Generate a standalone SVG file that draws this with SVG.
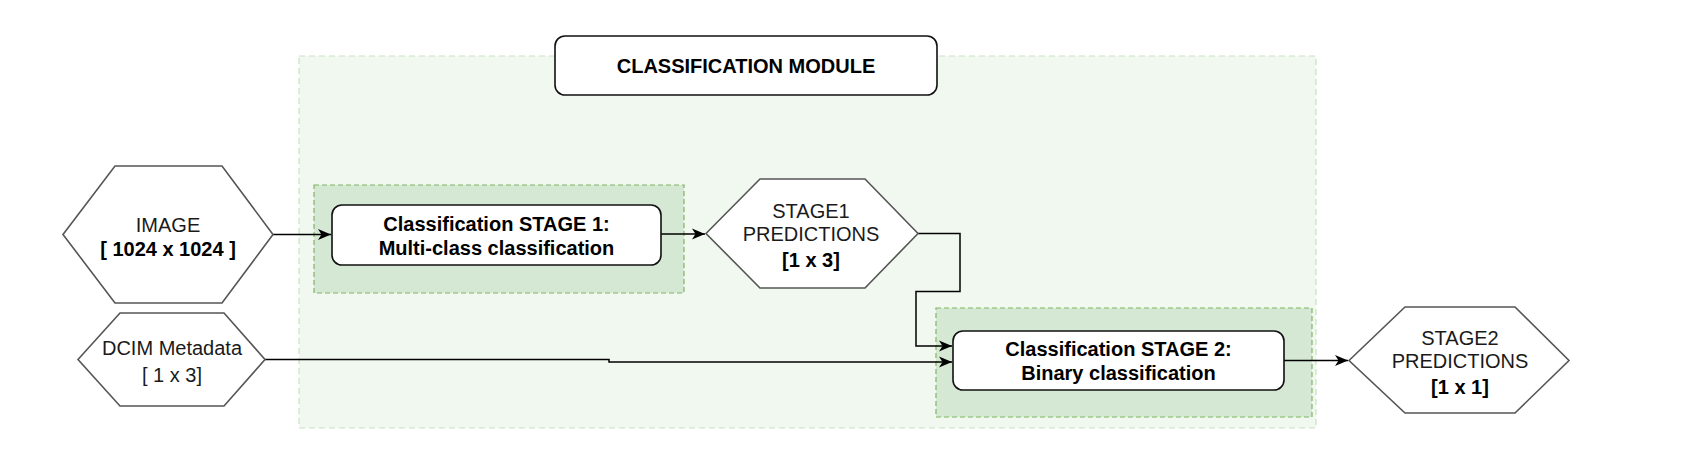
<svg xmlns="http://www.w3.org/2000/svg" width="1691" height="464" viewBox="0 0 1691 464">
<style>
.outer{fill:#f1f8f0;stroke:#c9e2c2;stroke-width:1.2;stroke-dasharray:6 4}
.inner{fill:#d5e8d4;stroke:#82b366;stroke-width:1.2;stroke-dasharray:5 3}
.box{fill:#ffffff;stroke:#111;stroke-width:1.6}
.hex{fill:#ffffff;stroke:#555;stroke-width:1.6;stroke-linejoin:miter}
.conn{fill:none;stroke:#000;stroke-width:1.5}
text{font-family:"Liberation Sans",Arial,sans-serif;font-size:20px;fill:#1a1a1a;text-anchor:middle}
.b{font-weight:bold;fill:#000}
</style>
<defs>
<marker id="arr" markerUnits="userSpaceOnUse" markerWidth="14" markerHeight="14" viewBox="0 0 14 14" refX="13" refY="7" orient="auto">
<path d="M0,1.5 L13,7 L0,12.5 L3.5,7 Z" fill="#000"/>
</marker>
</defs>
<g id="container">
<rect class="outer" x="299" y="56" width="1017" height="372"/>
</g>
<g id="group-stage1">
<rect class="inner" x="314" y="185" width="370" height="108"/>
</g>
<g id="group-stage2">
<rect class="inner" x="936" y="308" width="376" height="109"/>
</g>
<g id="module-title">
<rect class="box" x="555" y="36" width="382" height="59" rx="10"/>
<text class="b" x="746" y="73">CLASSIFICATION MODULE</text>
</g>
<g id="connectors">
<path class="conn" d="M273,234.5 H331" marker-end="url(#arr)"/>
<path class="conn" d="M661,234 H705" marker-end="url(#arr)"/>
<path class="conn" d="M918,233.5 H960 V291.5 H916 V346 H952" marker-end="url(#arr)"/>
<path class="conn" d="M265,359.5 H609 V362 H952" marker-end="url(#arr)"/>
<path class="conn" d="M1284,360.5 H1348" marker-end="url(#arr)"/>
</g>
<g id="image-input">
<polygon class="hex" points="63,234.5 115,166 222,166 273,234.5 222,303 115,303"/>
<text x="168" y="231.5">IMAGE</text>
<text class="b" x="168" y="256">[ 1024 x 1024 ]</text>
</g>
<g id="dcim-input">
<polygon class="hex" points="78,359.5 120,313 224,313 265,359.5 224,406 120,406"/>
<text x="172" y="355">DCIM Metadata</text>
<text x="172" y="381.5">[ 1 x 3]</text>
</g>
<g id="stage1">
<rect class="box" x="332" y="205" width="329" height="60" rx="10"/>
<text class="b" x="496.5" y="231">Classification STAGE 1:</text>
<text class="b" x="496.5" y="255">Multi-class classification</text>
</g>
<g id="stage1-predictions">
<polygon class="hex" points="706,233.5 760,179 865,179 918,233.5 865,288 760,288"/>
<text x="811" y="218">STAGE1</text>
<text x="811" y="241">PREDICTIONS</text>
<text class="b" x="811" y="266.5">[1 x 3]</text>
</g>
<g id="stage2">
<rect class="box" x="953" y="331" width="331" height="59" rx="10"/>
<text class="b" x="1118.5" y="356">Classification STAGE 2:</text>
<text class="b" x="1118.5" y="380">Binary classification</text>
</g>
<g id="stage2-predictions">
<polygon class="hex" points="1349,360.5 1405,307 1515,307 1569,360.5 1515,413 1405,413"/>
<text x="1460" y="345">STAGE2</text>
<text x="1460" y="368">PREDICTIONS</text>
<text class="b" x="1460" y="394">[1 x 1]</text>
</g>
</svg>
